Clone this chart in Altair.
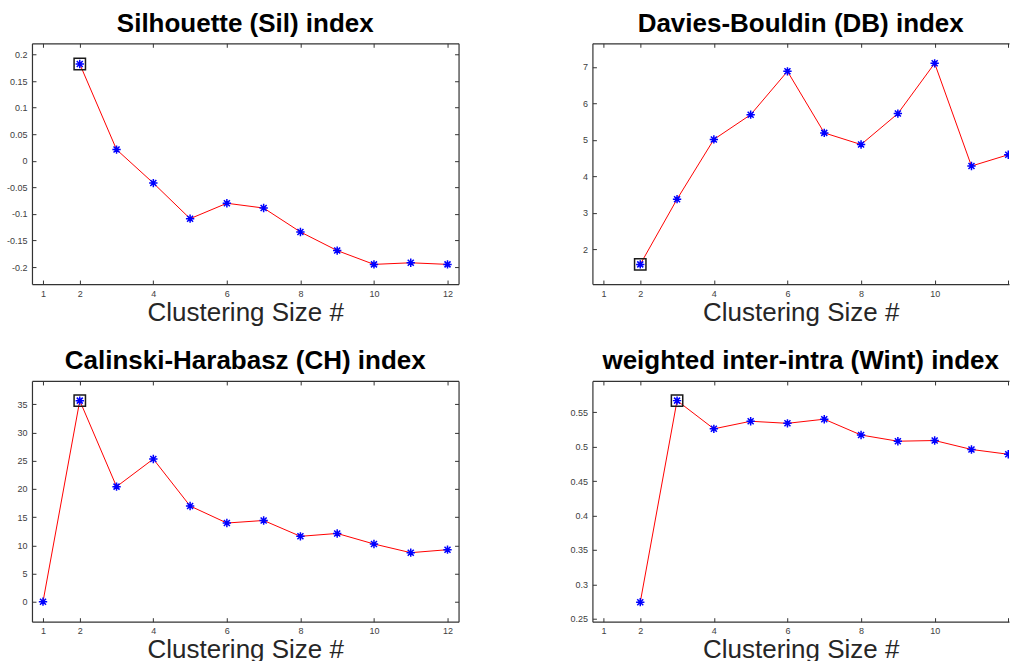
import altair as alt
import pandas as pd

# ---- data ----
K_SIL = [2, 3, 4, 5, 6, 7, 8, 9, 10, 11, 12]
SIL = [0.182, 0.021, -0.042, -0.109, -0.080, -0.089, -0.134, -0.169, -0.195, -0.192, -0.195]
K_DB = [2, 3, 4, 5, 6, 7, 8, 9, 10, 11, 12]
DB = [1.58, 3.37, 5.01, 5.69, 6.88, 5.19, 4.87, 5.72, 7.10, 4.28, 4.59]
K_CH = [1, 2, 3, 4, 5, 6, 7, 8, 9, 10, 11, 12]
CH = [0.0, 35.65, 20.4, 25.3, 16.97, 13.95, 14.4, 11.59, 12.1, 10.23, 8.69, 9.22]
K_WINT = [2, 3, 4, 5, 6, 7, 8, 9, 10, 11, 12]
WINT = [0.274, 0.567, 0.526, 0.537, 0.534, 0.540, 0.517, 0.508, 0.509, 0.496, 0.489]

BEST_SIL = 2
BEST_DB = 2
BEST_CH = 2
BEST_WINT = 3

X_TICKS = [1, 2, 4, 6, 8, 10, 12]
SIL_TICKS = [-0.2, -0.15, -0.1, -0.05, 0, 0.05, 0.1, 0.15, 0.2]
DB_TICKS = [2, 3, 4, 5, 6, 7]
CH_TICKS = [0, 5, 10, 15, 20, 25, 30, 35]
WINT_TICKS = [0.25, 0.3, 0.35, 0.4, 0.45, 0.5, 0.55]

TITLES = ["Silhouette (Sil) index", "Davies-Bouldin (DB) index",
          "Calinski-Harabasz (CH) index", "weighted inter-intra (Wint) index"]
X_TITLE = "Clustering Size #"

SIL_DOMAIN = [-0.232, 0.221]
DB_DOMAIN = [1.04, 7.65]
CH_DOMAIN = [-3.55, 39.14]
WINT_DOMAIN = [0.2456, 0.5956]
X_DOMAIN_LEFT = [0.7, 12.3]
X_DOMAIN_RIGHT = [0.7, 12.02]   # right-hand panels are cut by the page edge

FONT = "Liberation Sans"
ASTERISK = "M0,-1L0,1M-1,0L1,0M-0.72,-0.72L0.72,0.72M-0.72,0.72L0.72,-0.72"
FRAME = "#333333"
W_LEFT, W_RIGHT, H = 427, 417, 241


def panel(ks, vals, best_k, title, ydomain, yticks, cut_right):
    df = pd.DataFrame({"k": ks, "v": vals})
    best = df[df["k"] == best_k]
    xs = alt.Scale(domain=X_DOMAIN_RIGHT if cut_right else X_DOMAIN_LEFT,
                   nice=False, zero=False)
    ys = alt.Scale(domain=ydomain, nice=False, zero=False)
    xlabel = ("datum.value == 12 ? '' : datum.value + ''" if cut_right
              else "datum.value + ''")

    main_x = alt.X("k:Q", scale=xs, axis=alt.Axis(
        values=X_TICKS, title=X_TITLE, orient="bottom", domain=False,
        offset=-4, tickSize=4, tickColor=FRAME, labelPadding=5,
        labelFontSize=9, labelColor="#404040", labelFont=FONT,
        labelExpr=xlabel,
        titleFont=FONT, titleFontSize=26, titleFontWeight="normal",
        titleColor="#262626", titlePadding=1, grid=False, labelFlush=False))
    main_y = alt.Y("v:Q", scale=ys, axis=alt.Axis(
        values=yticks, title=None, orient="left", domain=False,
        offset=-4, tickSize=4, tickColor=FRAME, labelPadding=5,
        labelFontSize=9, labelColor="#404040", labelFont=FONT,
        labelExpr="datum.value + ''", minExtent=32, grid=False, labelFlush=False))
    top_x = alt.X("k:Q", scale=xs, axis=alt.Axis(
        values=X_TICKS, title=None, orient="top", domain=False, labels=False,
        offset=-4, tickSize=4, tickColor=FRAME, grid=False,
        minExtent=0, maxExtent=0))
    right_y = (alt.Y("v:Q", scale=ys, axis=None) if cut_right else
               alt.Y("v:Q", scale=ys, axis=alt.Axis(
                   values=yticks, title=None, orient="right", domain=False,
                   labels=False, offset=-4, tickSize=4, tickColor=FRAME,
                   grid=False, minExtent=0, maxExtent=0)))
    # frame lines drawn as axis domains
    frame_top = alt.X("k:Q", scale=xs, axis=alt.Axis(
        orient="top", domain=True, domainColor=FRAME, domainWidth=1.2,
        ticks=False, labels=False, title=None, grid=False,
        minExtent=0, maxExtent=0))
    frame_left = alt.Y("v:Q", scale=ys, axis=alt.Axis(
        orient="left", domain=True, domainColor=FRAME, domainWidth=1.2,
        ticks=False, labels=False, title=None, grid=False,
        minExtent=0, maxExtent=0))
    frame_bottom = alt.X("k:Q", scale=xs, axis=alt.Axis(
        orient="bottom", domain=True, domainColor=FRAME, domainWidth=1.2,
        ticks=False, labels=False, title=None, grid=False,
        minExtent=0, maxExtent=0))
    frame_right = (alt.Y("v:Q", scale=ys, axis=None) if cut_right else
                   alt.Y("v:Q", scale=ys, axis=alt.Axis(
                       orient="right", domain=True, domainColor=FRAME,
                       domainWidth=1.2, ticks=False, labels=False, title=None,
                       grid=False, minExtent=0, maxExtent=0)))

    base = alt.Chart(df)
    pts = base.mark_point(shape=ASTERISK, filled=False, color="#0000ff",
                          size=70, strokeWidth=1.5, opacity=1,
                          clip=cut_right).encode(x=main_x, y=main_y)
    tick_layer = base.mark_point(opacity=0).encode(x=top_x, y=right_y)
    frame_a = base.mark_point(opacity=0).encode(x=frame_top, y=frame_left)
    frame_b = base.mark_point(opacity=0).encode(x=frame_bottom, y=frame_right)
    line = base.mark_line(color="#ff0000", strokeWidth=1, clip=cut_right).encode(
        x=alt.X("k:Q", scale=xs, axis=None), y=alt.Y("v:Q", scale=ys, axis=None))
    box = alt.Chart(best).mark_point(shape="square", filled=False, color="#1a1a1a",
                                     size=130, strokeWidth=1.5, opacity=1).encode(
        x=alt.X("k:Q", scale=xs, axis=None), y=alt.Y("v:Q", scale=ys, axis=None))

    return alt.layer(line, pts, tick_layer, frame_a, frame_b, box).resolve_axis(
        x="independent", y="independent").properties(
        width=W_RIGHT if cut_right else W_LEFT, height=H,
        title=alt.TitleParams(title, fontSize=26, fontWeight="bold", font=FONT,
                              color="#000000", offset=6, anchor="middle"))


p1 = panel(K_SIL, SIL, BEST_SIL, TITLES[0], SIL_DOMAIN, SIL_TICKS, False)
p2 = panel(K_DB, DB, BEST_DB, TITLES[1], DB_DOMAIN, DB_TICKS, True)
p3 = panel(K_CH, CH, BEST_CH, TITLES[2], CH_DOMAIN, CH_TICKS, False)
p4 = panel(K_WINT, WINT, BEST_WINT, TITLES[3], WINT_DOMAIN, WINT_TICKS, True)

row1 = alt.hconcat(p1, p2, spacing=105)
row2 = alt.hconcat(p3, p4, spacing=105)
chart = alt.vconcat(row1, row2, spacing=23).properties(
    padding={"left": 4, "top": 10, "right": 0, "bottom": 0},
    background="white",
).configure(font=FONT).configure_view(stroke=None)

chart.save("out.html", embed_options={"renderer": "svg", "actions": False})
